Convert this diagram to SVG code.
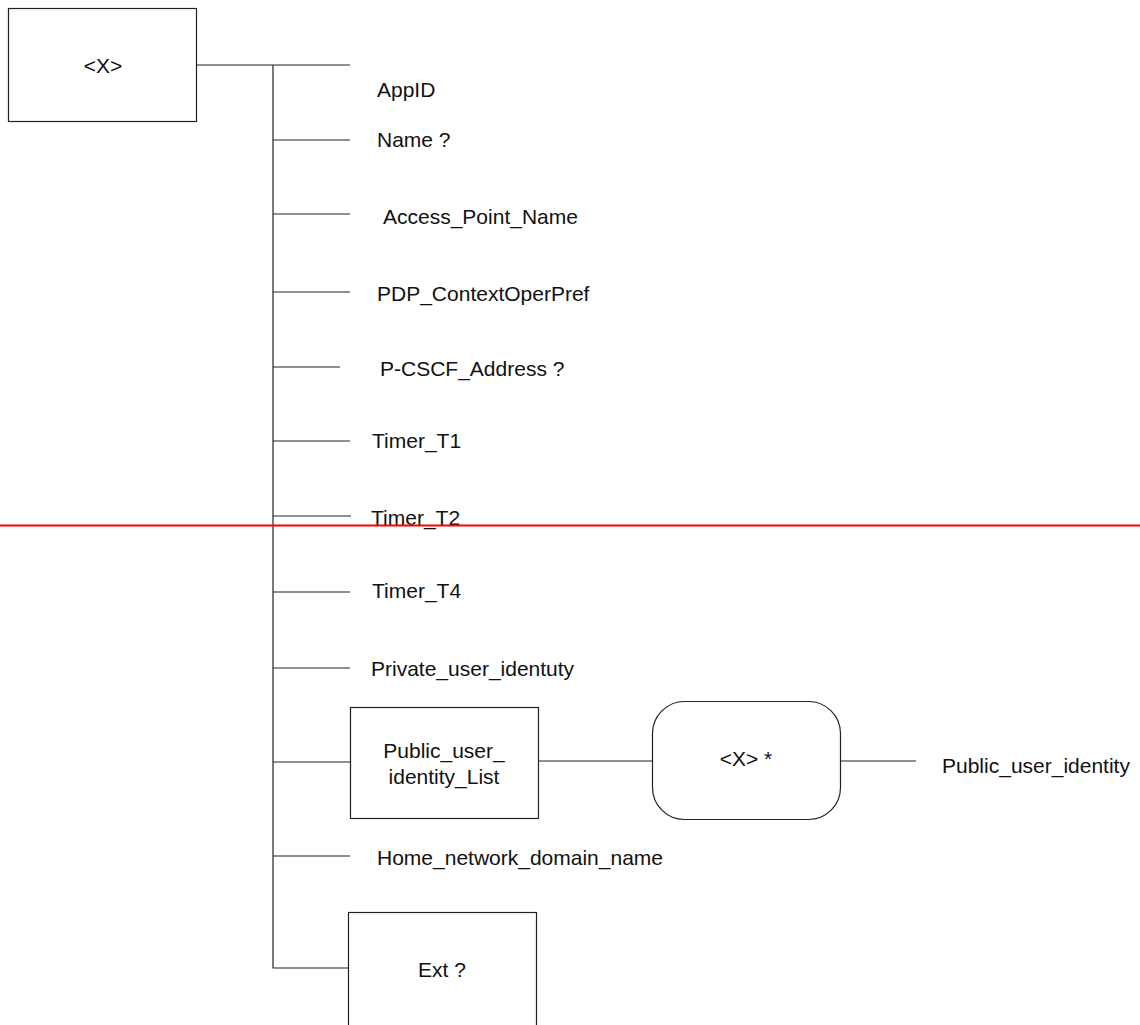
<svg xmlns="http://www.w3.org/2000/svg" width="1140" height="1025" viewBox="0 0 1140 1025">
<style>
.box{fill:#fff;stroke:#222;stroke-width:1.2}
.ln{stroke:#222;stroke-width:1.2;fill:none}
text{font-family:"Liberation Sans",Arial,sans-serif;font-size:21px;fill:#111}
.c{text-anchor:middle}
</style>
<rect width="1140" height="1025" fill="#fff"/>
<g id="connectors">
<path class="ln" d="M197 65H350M273 65V968H348"/>
<path class="ln" d="M273 140H350M273 214H350M273 292H350M273 367H340M273 441H350M273 516H351M273 592H350M273 668H350M273 762H350M273 856H350"/>
<path class="ln" d="M538 761H652M841 761H916"/>
</g>
<g id="node-root"><rect class="box" x="8.5" y="8.5" width="188" height="113"/><text class="c" x="103" y="73">&lt;X&gt;</text></g>
<g id="node-appid"><text x="377" y="97">AppID</text></g>
<g id="node-name"><text x="377" y="147">Name ?</text></g>
<g id="node-apn"><text x="383" y="224">Access_Point_Name</text></g>
<g id="node-pdp"><text x="377" y="301">PDP_ContextOperPref</text></g>
<g id="node-pcscf"><text x="380" y="376">P-CSCF_Address ?</text></g>
<g id="node-t1"><text x="372" y="448">Timer_T1</text></g>
<g id="node-t2"><text x="371" y="525">Timer_T2</text></g>
<g id="node-t4"><text x="372" y="598">Timer_T4</text></g>
<g id="node-private"><text x="371" y="676">Private_user_identuty</text></g>
<g id="node-publist"><rect class="box" x="350.5" y="707.5" width="188" height="111"/><text class="c" x="444" y="758">Public_user_</text><text class="c" x="444" y="784">identity_List</text></g>
<g id="node-x2"><rect class="box" x="652.5" y="701.5" width="188" height="118" rx="32"/><text class="c" x="746" y="766">&lt;X&gt; *</text></g>
<g id="node-pubid"><text x="942" y="773">Public_user_identity</text></g>
<g id="node-home"><text x="377" y="865">Home_network_domain_name</text></g>
<g id="node-ext"><rect class="box" x="348.5" y="912.5" width="188" height="130"/><text class="c" x="442" y="977">Ext ?</text></g>
<line x1="0" y1="525.5" x2="1140" y2="525.5" stroke="#f00" stroke-width="2"/>
</svg>
